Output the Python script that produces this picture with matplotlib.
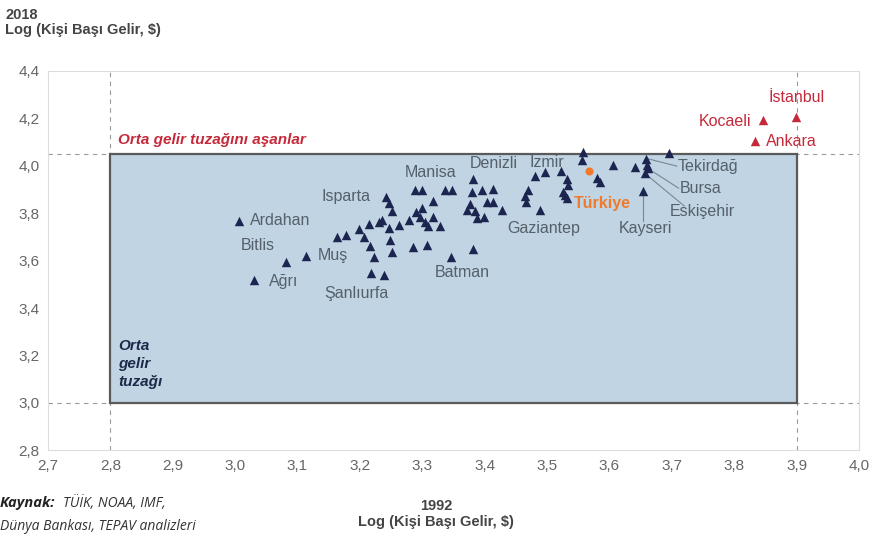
#!/usr/bin/env python3
import matplotlib

matplotlib.use("Agg")
import matplotlib.pyplot as plt
from matplotlib.patches import Rectangle
from matplotlib.ticker import FuncFormatter, MultipleLocator

# log income per capita, 1992 (x) vs 2018 (y), provinces
X1992 = [
    3.007, 3.082, 3.114, 3.031, 3.218, 3.238, 3.346, 3.382,
    3.242, 3.246, 3.252, 3.177, 3.199, 3.206, 3.216, 3.222, 3.214, 3.230,
    3.235, 3.246, 3.248, 3.251, 3.263, 3.278, 3.290, 3.300, 3.296, 3.305,
    3.310, 3.317, 3.318, 3.329, 3.285, 3.307, 3.289, 3.300, 3.337, 3.348,
    3.382, 3.380, 3.396, 3.413, 3.376, 3.372, 3.385, 3.404, 3.414, 3.388,
    3.399, 3.428, 3.163,
    3.557, 3.556, 3.580, 3.585, 3.605, 3.641, 3.658, 3.660, 3.662, 3.657,
    3.695, 3.654, 3.480, 3.497, 3.523, 3.532, 3.534, 3.526, 3.529, 3.532,
    3.470, 3.465, 3.467, 3.489,
]
Y2018 = [
    3.768, 3.595, 3.619, 3.518, 3.549, 3.539, 3.613, 3.647,
    3.869, 3.841, 3.810, 3.707, 3.735, 3.698, 3.661, 3.613, 3.754, 3.763,
    3.770, 3.739, 3.686, 3.637, 3.749, 3.773, 3.805, 3.820, 3.784, 3.763,
    3.745, 3.852, 3.784, 3.745, 3.656, 3.665, 3.897, 3.897, 3.897, 3.897,
    3.942, 3.890, 3.897, 3.900, 3.838, 3.813, 3.810, 3.848, 3.848, 3.778,
    3.782, 3.813, 3.700,
    4.058, 4.023, 3.950, 3.932, 4.002, 3.995, 4.030, 4.002, 3.988, 3.967,
    4.054, 3.894, 3.956, 3.974, 3.978, 3.942, 3.918, 3.890, 3.876, 3.862,
    3.897, 3.872, 3.848, 3.813,
]

# provinces that escaped the middle income trap
RED_X = [3.846, 3.899, 3.833]
RED_Y = [4.192, 4.206, 4.103]

TR_X, TR_Y = 3.568, 3.978

# (text, x, y, ha)
LABELS = [
    ("Ardahan", 3.024, 3.768, "left"),
    ("Bitlis", 3.036, 3.665, "center"),
    ("Muş", 3.133, 3.620, "left"),
    ("Ağrı", 3.055, 3.510, "left"),
    ("Şanlıurfa", 3.194, 3.463, "center"),
    ("Batman", 3.364, 3.550, "center"),
    ("Isparta", 3.178, 3.870, "center"),
    ("Manisa", 3.313, 3.973, "center"),
    ("Denizli", 3.414, 4.010, "center"),
    ("İzmir", 3.500, 4.015, "center"),
    ("Gaziantep", 3.494, 3.737, "center"),
    ("Kayseri", 3.657, 3.737, "center"),
    ("Tekirdağ", 3.710, 3.998, "left"),
    ("Bursa", 3.713, 3.905, "left"),
    ("Eskişehir", 3.697, 3.808, "left"),
]

# leader lines: (from point) -> (to label)
LEADERS = [
    ((3.660, 4.030), (3.708, 3.998)),
    ((3.662, 3.988), (3.711, 3.905)),
    ((3.657, 3.967), (3.720, 3.830)),
    ((3.654, 3.894), (3.654, 3.765)),
]

NAVY = "#1b2550"
RED = "#c42a3a"
ORANGE = "#f07a2a"
LABEL_GRAY = "#55606a"
TICK_GRAY = "#666666"


def comma(v, _pos):
    return f"{v:.1f}".replace(".", ",")


def main() -> None:
    plt.rcParams["font.family"] = ["Liberation Sans", "DejaVu Sans"]

    fig = plt.figure(figsize=(8.72, 5.4), dpi=100)
    ax = fig.add_axes([0.055, 0.166, 0.93, 0.703])
    ax.set_xlim(2.7, 4.0)
    ax.set_ylim(2.8, 4.4)

    ax.add_patch(
        Rectangle((2.8, 3.0), 1.1, 1.05, facecolor="#c0d4e3",
                  edgecolor="#5a5a5a", linewidth=1.6, zorder=1)
    )
    for xv in (2.8, 3.9):
        ax.axvline(xv, color="#999999", linestyle=(0, (4, 4)), linewidth=0.8, zorder=0)
    for yv in (3.0, 4.05):
        ax.axhline(yv, color="#999999", linestyle=(0, (4, 4)), linewidth=0.8, zorder=0)

    for (x0, y0), (x1, y1) in LEADERS:
        ax.plot([x0, x1], [y0, y1], color="#7a8590", linewidth=0.8, zorder=2)

    ax.scatter(X1992, Y2018, marker="^", s=46, color=NAVY, zorder=3, linewidths=0)
    ax.scatter(RED_X, RED_Y, marker="^", s=46, color=RED, zorder=3, linewidths=0)
    ax.scatter([TR_X], [TR_Y], marker="o", s=34, color=ORANGE, zorder=4, linewidths=0)

    for text, x, y, ha in LABELS:
        ax.text(x, y, text, ha=ha, va="center", fontsize=11.5, color=LABEL_GRAY, zorder=5)

    ax.text(3.828, 4.187, "Kocaeli", ha="right", va="center", fontsize=11.5, color=RED)
    ax.text(3.900, 4.288, "İstanbul", ha="center", va="center", fontsize=11.5, color=RED)
    ax.text(3.851, 4.103, "Ankara", ha="left", va="center", fontsize=11.5, color=RED)
    ax.text(3.588, 3.842, "Türkiye", ha="center", va="center", fontsize=11.5,
            color=ORANGE, fontweight="bold", zorder=5)

    ax.text(2.813, 4.107, "Orta gelir tuzağını aşanlar", ha="left", va="center",
            fontsize=11, color=RED, fontweight="bold", style="italic")
    ax.text(2.813, 3.165, "Orta\ngelir\ntuzağı", ha="left", va="center",
            fontsize=11, color="#1c2a4a", fontweight="bold", style="italic",
            linespacing=1.35)

    ax.xaxis.set_major_locator(MultipleLocator(0.1))
    ax.yaxis.set_major_locator(MultipleLocator(0.2))
    ax.xaxis.set_major_formatter(FuncFormatter(comma))
    ax.yaxis.set_major_formatter(FuncFormatter(comma))
    ax.tick_params(length=0, labelsize=11, labelcolor=TICK_GRAY, pad=6)
    for sp in ax.spines.values():
        sp.set_color("#dddddd")
        sp.set_linewidth(0.8)

    fig.text(0.006, 0.985, "2018\nLog (Kişi Başı Gelir, $)", ha="left", va="top",
             fontsize=10.5, fontweight="bold", color="#444444", linespacing=1.1)
    fig.text(0.5, 0.075, "1992\nLog (Kişi Başı Gelir, $)", ha="center", va="top",
             fontsize=10.5, fontweight="bold", color="#444444", linespacing=1.15)

    fig.text(0.0, 0.068, "Kaynak:", ha="left", va="center", fontsize=10.5,
             fontweight="bold", style="italic", color="#222222", family="Open Sans")
    fig.text(0.072, 0.068, "TÜİK, NOAA, IMF,", ha="left", va="center", fontsize=10,
             style="italic", color="#333333", family="Open Sans")
    fig.text(0.0, 0.025, "Dünya Bankası, TEPAV analizleri", ha="left", va="center",
             fontsize=10, style="italic", color="#333333", family="Open Sans")

    fig.savefig("out.png", dpi=100)
    plt.close(fig)


if __name__ == "__main__":
    main()
